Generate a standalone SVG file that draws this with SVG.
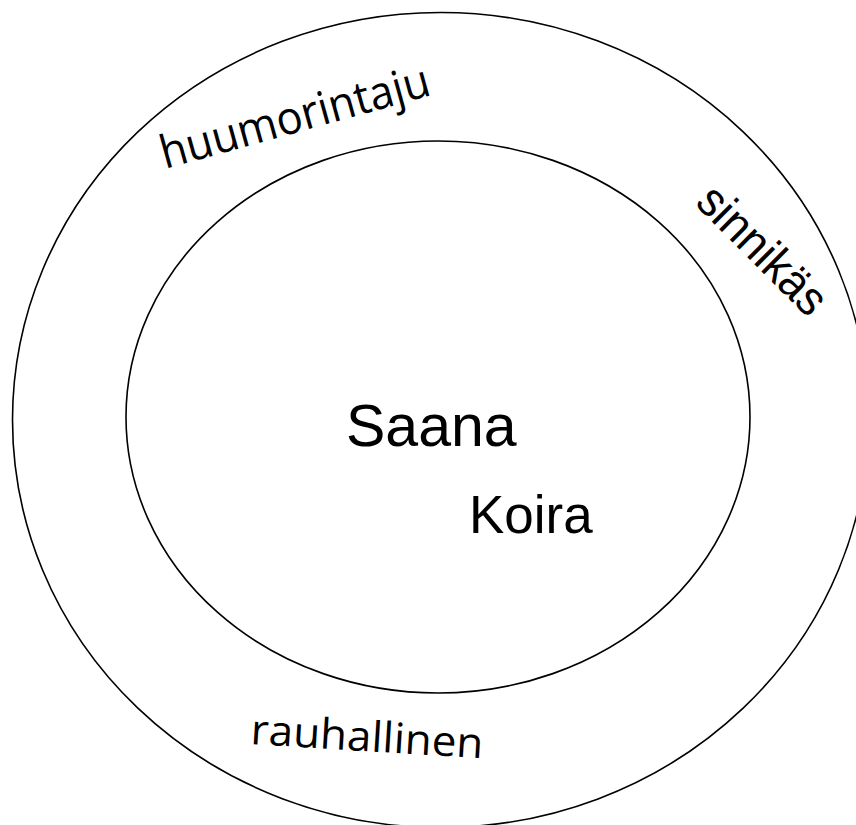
<svg xmlns="http://www.w3.org/2000/svg" width="856" height="825" viewBox="0 0 856 825">
<style>
.ring{fill:none;stroke:#000;stroke-width:1.6}
.lbl{font-family:"Open Sans","Liberation Sans",sans-serif;fill:#000}
.c{font-family:"Liberation Sans",Arial,sans-serif;fill:#000}
</style>
<rect width="856" height="825" fill="#fff"/>
<g id="outer"><ellipse class="ring" cx="440.5" cy="420" rx="428" ry="407.5"/></g>
<g id="inner"><ellipse class="ring" cx="438" cy="417" rx="312" ry="276"/></g>
<g id="huumorintaju"><text class="lbl" font-size="46" transform="translate(165,169) rotate(-15.5)" textLength="278" lengthAdjust="spacingAndGlyphs">huumorintaju</text></g>
<g id="sinnikas"><text class="c" font-size="48" transform="translate(694,204) rotate(45)" textLength="162" lengthAdjust="spacingAndGlyphs">sinnikäs</text></g>
<g id="rauhallinen"><text class="lbl" font-size="42" transform="translate(250,744) rotate(3.5)" textLength="233" lengthAdjust="spacingAndGlyphs">rauhallinen</text></g>
<g id="saana"><text class="c" font-size="59" x="346" y="446">Saana</text></g>
<g id="koira"><text class="c" font-size="53" x="469" y="533">Koira</text></g>
</svg>
